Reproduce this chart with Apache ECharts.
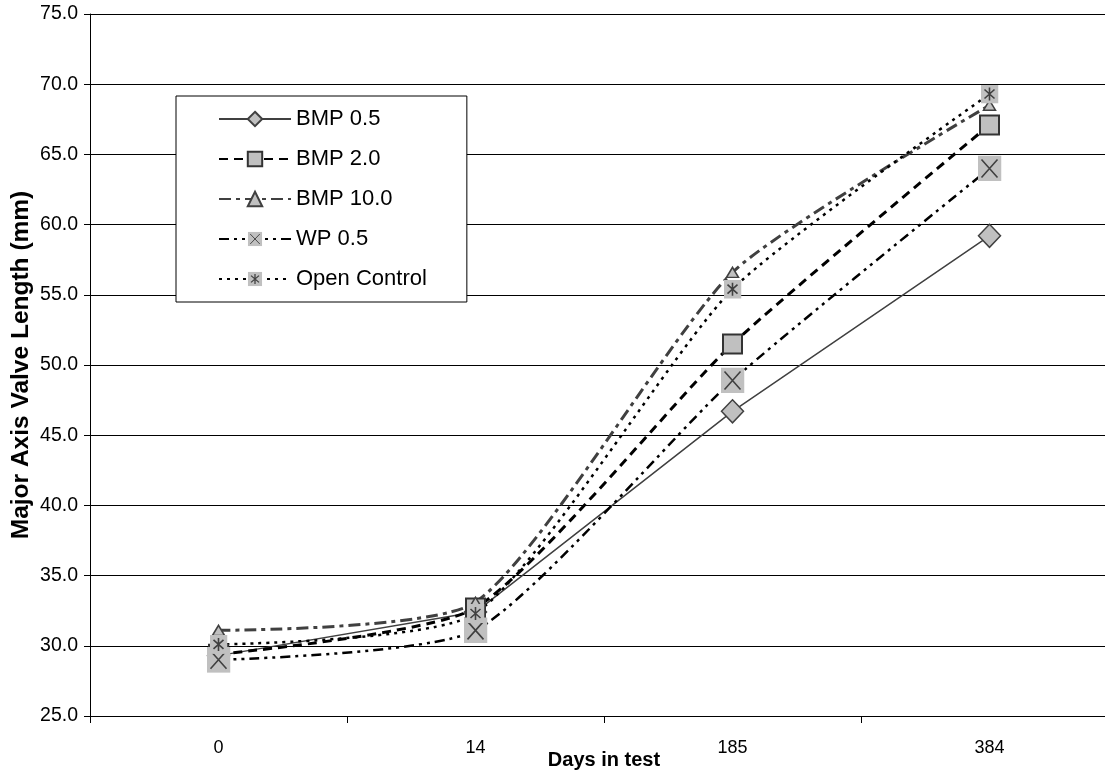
<!DOCTYPE html>
<html>
<head>
<meta charset="utf-8">
<title>Major Axis Valve Length</title>
<script src="https://cdn.jsdelivr.net/npm/echarts@6/dist/echarts.min.js"></script>
<style>
  html, body { margin: 0; padding: 0; background: #fff; }
  #chart { width: 1105px; height: 776px; }
</style>
</head>
<body>
<div id="chart"></div>
<script>
// values
const days = ['0', '14', '185', '384']
const bmp05 = [29.3, 32.4, 46.7, 59.2]
const bmp20 = [29.4, 32.7, 51.5, 67.1]
const bmp100 = [31.1, 33.1, 56.6, 68.5]
const wp05 = [29.0, 31.1, 48.9, 64.0]
const openControl = [30.1, 32.3, 55.4, 69.3]
const yMin = 25, yMax = 75, yStep = 5

const font = "'Liberation Sans', Arial, sans-serif"
const markFill = '#c0c0c0'
const markEdge = '#404040'

// gray box with a dark glyph on it, as Excel draws the x / star markers
function boxIcon(w, h, glyph) {
  const svg = `<svg xmlns="http://www.w3.org/2000/svg" width="${w}" height="${h}" viewBox="0 0 ${w} ${h}">` +
    `<rect width="${w}" height="${h}" fill="${markFill}"/>` +
    `<path d="${glyph}" stroke="${markEdge}" stroke-width="1.6" fill="none"/></svg>`
  return 'image://data:image/svg+xml;charset=utf-8,' + encodeURIComponent(svg)
}
const crossIcon = boxIcon(24, 26, 'M4 4L20 22M20 4L4 22')
const starIcon = boxIcon(18, 19, 'M9 3V16M4 5L14 14M14 5L4 14')

const chart = echarts.init(document.getElementById('chart'), null, { renderer: 'canvas' })

chart.setOption({
  animation: false,
  backgroundColor: '#fff',
  textStyle: { fontFamily: font, color: '#000' },
  // the plot runs a little past the right edge, as in the original
  grid: { left: 90, top: 14, width: 1028, bottom: 60, outerBoundsMode: 'none' },
  legend: {
    orient: 'vertical',
    left: 176,
    top: 96,
    padding: [12, 40, 12, 42],
    itemWidth: 72,
    itemHeight: 18,
    itemGap: 18,
    backgroundColor: '#fff',
    borderColor: '#000',
    borderWidth: 1,
    textStyle: { fontFamily: font, fontSize: 22, lineHeight: 22, color: '#000' },
    data: ['BMP 0.5', 'BMP 2.0', 'BMP 10.0', 'WP 0.5', 'Open Control'],
  },
  xAxis: {
    type: 'category',
    data: days,
    boundaryGap: true,
    name: 'Days in test',
    nameLocation: 'middle',
    nameGap: 34,
    nameMoveOverlap: false,
    nameTextStyle: { fontFamily: font, fontSize: 20, fontWeight: 'bold', color: '#000' },
    axisLine: { lineStyle: { color: '#000', width: 1 } },
    axisTick: { show: true, interval: 0, length: 7, lineStyle: { color: '#000' } },
    axisLabel: { fontFamily: font, fontSize: 18, color: '#000', margin: 23 },
    splitLine: { show: false },
  },
  yAxis: {
    type: 'value',
    min: yMin,
    max: yMax,
    interval: yStep,
    name: 'Major Axis Valve Length (mm)',
    nameLocation: 'middle',
    nameGap: 56,
    nameMoveOverlap: false,
    nameTextStyle: { fontFamily: font, fontSize: 24.5, fontWeight: 'bold', color: '#000' },
    axisLine: { show: true, lineStyle: { color: '#000', width: 1 } },
    axisTick: { show: true, length: 6, lineStyle: { color: '#000' } },
    axisLabel: { fontFamily: font, fontSize: 19.5, color: '#000', margin: 12, formatter: (v) => v.toFixed(1) },
    splitLine: { lineStyle: { color: '#000', width: 1 } },
  },
  series: [
    {
      name: 'BMP 0.5',
      type: 'line',
      data: bmp05,
      smooth: false,
      symbol: 'diamond',
      symbolSize: [22, 23],
      lineStyle: { color: '#404040', width: 1.5, type: 'solid' },
      itemStyle: { color: markFill, borderColor: markEdge, borderWidth: 1.5 },
    },
    {
      name: 'BMP 2.0',
      type: 'line',
      data: bmp20,
      smooth: 0.2,
      symbol: 'rect',
      symbolSize: 19,
      lineStyle: { color: '#000', width: 3, type: [9, 6] },
      itemStyle: { color: markFill, borderColor: '#333', borderWidth: 2 },
    },
    {
      name: 'BMP 10.0',
      type: 'line',
      data: bmp100,
      smooth: 0.2,
      symbol: 'triangle',
      symbolSize: [12, 10],
      lineStyle: { color: '#404040', width: 3, type: [12, 5, 4, 5] },
      itemStyle: { color: markFill, borderColor: markEdge, borderWidth: 1.5 },
    },
    {
      name: 'WP 0.5',
      type: 'line',
      data: wp05,
      smooth: 0.2,
      symbol: crossIcon,
      symbolSize: [24, 26],
      lineStyle: { color: '#000', width: 2.5, type: [10, 5, 3, 5, 3, 5] },
      itemStyle: { color: markFill, borderColor: markEdge },
    },
    {
      name: 'Open Control',
      type: 'line',
      data: openControl,
      smooth: 0.2,
      symbol: starIcon,
      symbolSize: [18, 19],
      lineStyle: { color: '#000', width: 2.5, type: [3, 5] },
      itemStyle: { color: markFill, borderColor: markEdge },
    },
  ],
})
</script>
</body>
</html>
